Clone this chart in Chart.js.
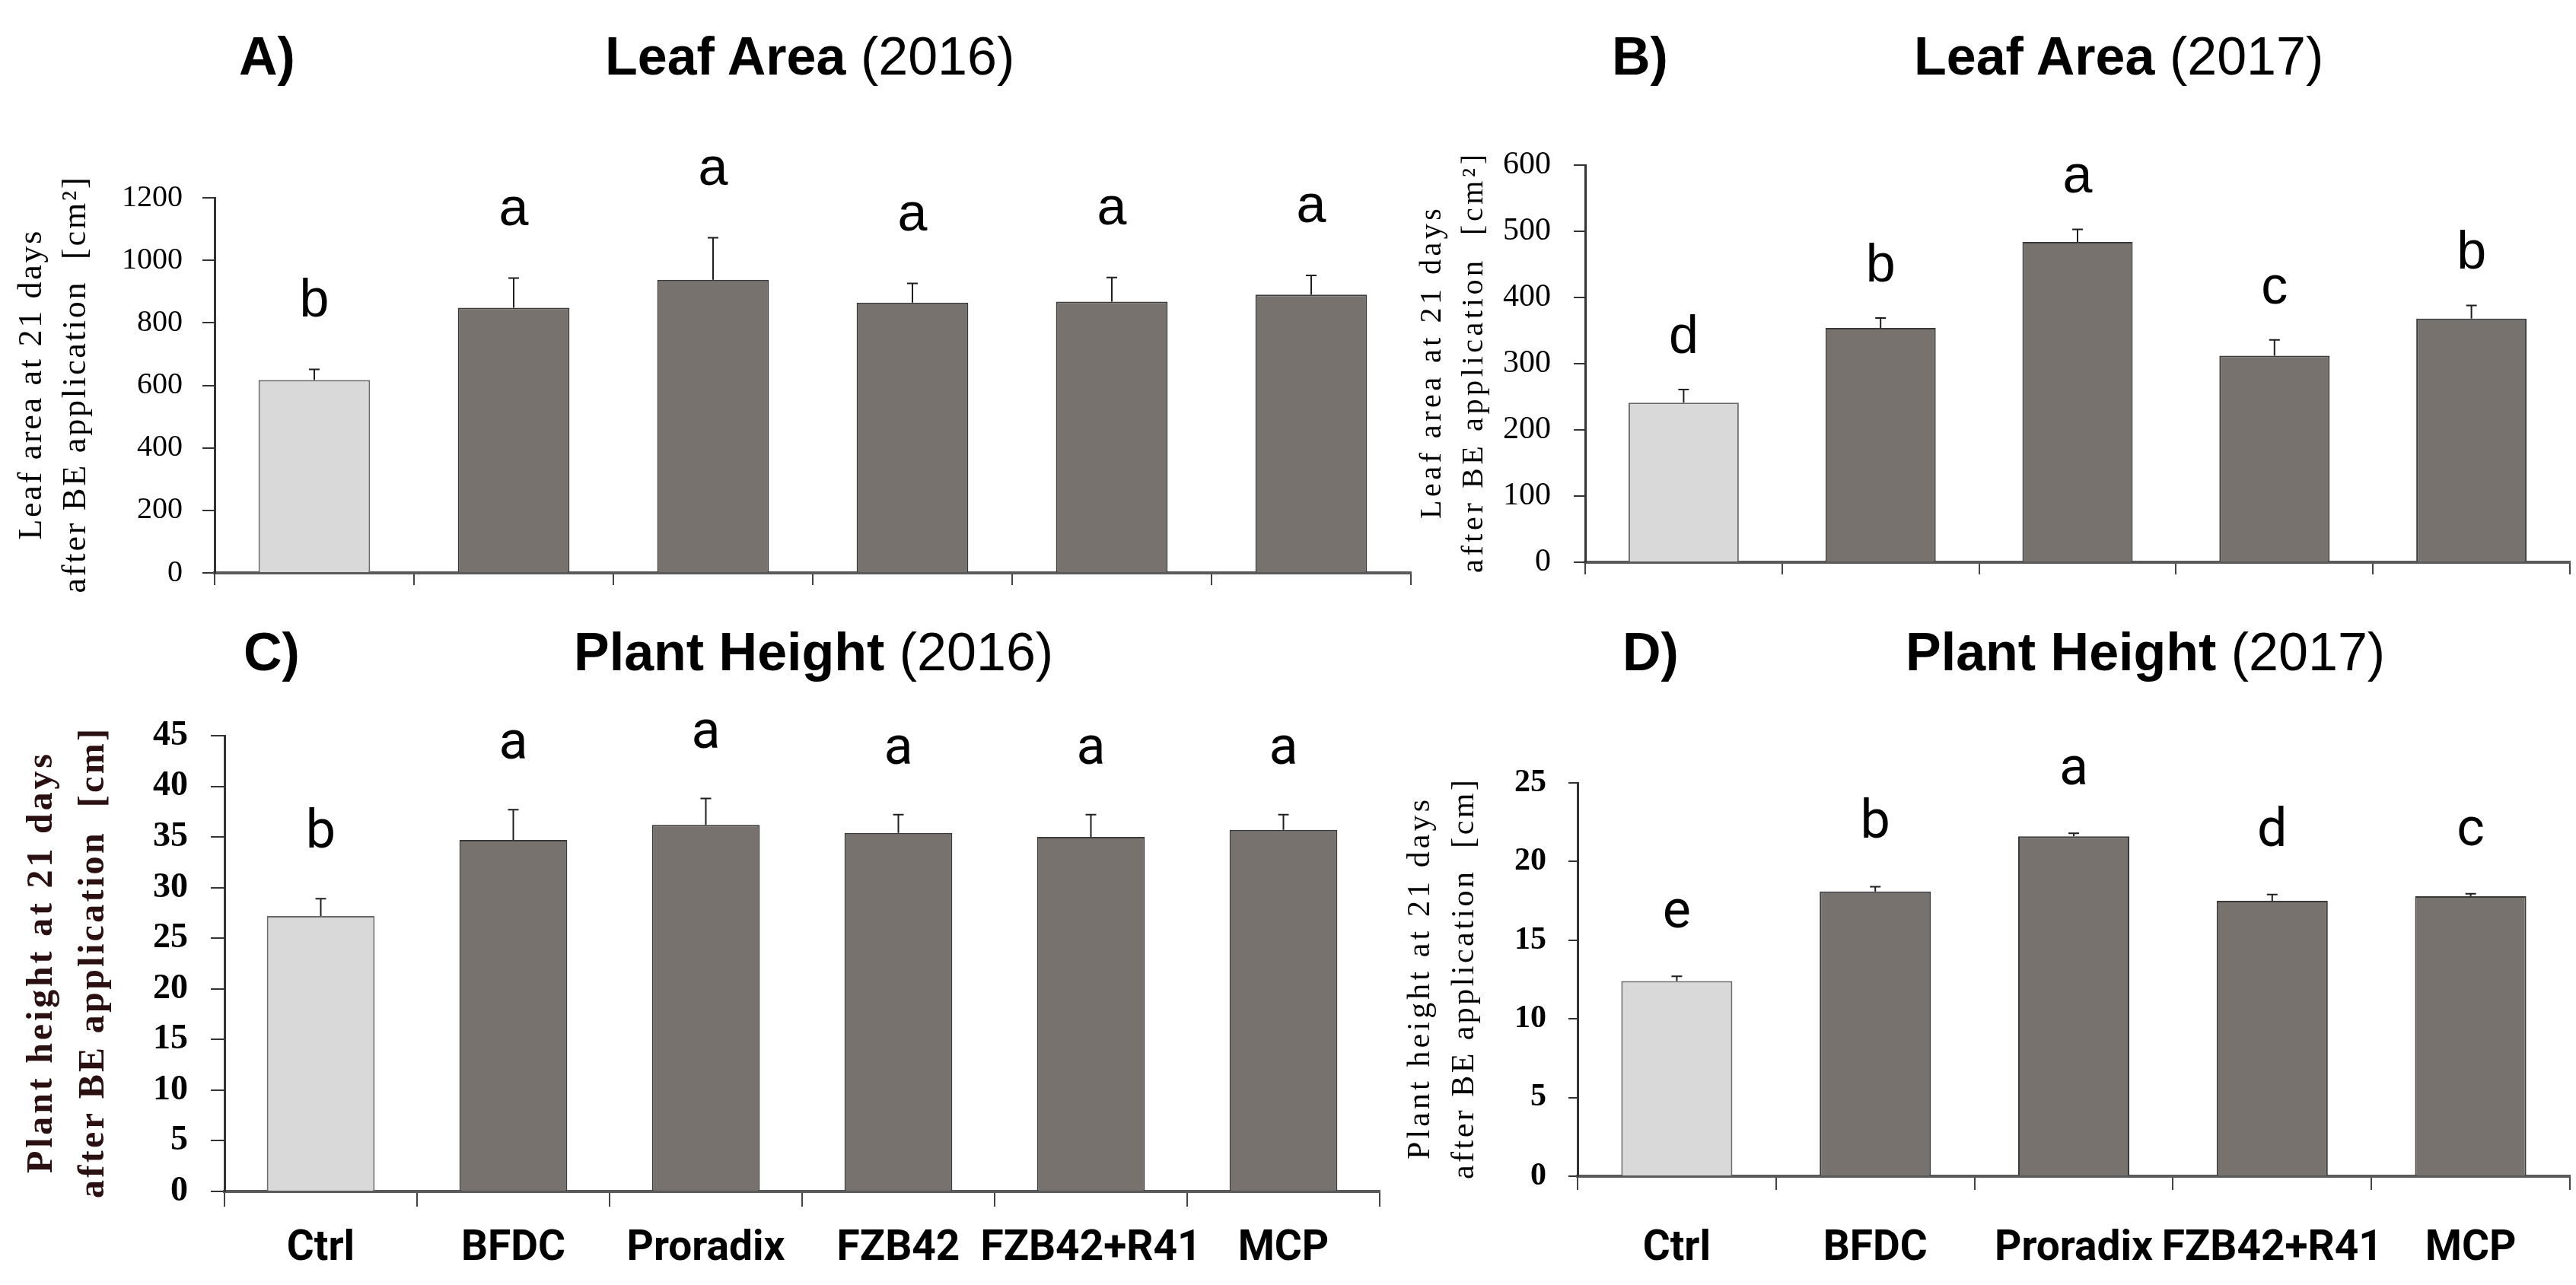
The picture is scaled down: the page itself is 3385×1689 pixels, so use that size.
<!DOCTYPE html>
<html>
<head>
<meta charset="utf-8">
<script src="https://cdn.jsdelivr.net/npm/chart.js@4.4.1/dist/chart.umd.min.js"></script>
<style>
    body { margin: 0; background: #fff; }
    #page { position: relative; width: 3385px; height: 1689px; overflow: hidden; background: #fff; }
    canvas { position: absolute; }
    .ttl { position: absolute; font-family: 'Liberation Sans', Arial, sans-serif; font-size: 70px; line-height: 70px; color: #000; white-space: nowrap; }
</style>
</head>
<body>
<div id="page">
    <div class="ttl" style="left:314px;top:39px"><b>A)</b></div>
    <div class="ttl" style="left:795px;top:39px"><b>Leaf Area</b> (2016)</div>
    <div class="ttl" style="left:2118px;top:39px"><b>B)</b></div>
    <div class="ttl" style="left:2515px;top:39px"><b>Leaf Area</b> (2017)</div>
    <div class="ttl" style="left:320px;top:822px"><b>C)</b></div>
    <div class="ttl" style="left:754px;top:822px"><b>Plant Height</b> (2016)</div>
    <div class="ttl" style="left:2132px;top:822px"><b>D)</b></div>
    <div class="ttl" style="left:2504px;top:822px"><b>Plant Height</b> (2017)</div>

    <canvas id="chart-a" width="1880" height="680" style="left:0;top:150px"></canvas>
    <canvas id="chart-b" width="1585" height="700" style="left:1800px;top:130px"></canvas>
    <canvas id="chart-c" width="1850" height="839" style="left:0;top:850px"></canvas>
    <canvas id="chart-d" width="1585" height="789" style="left:1800px;top:900px"></canvas>
</div>
<script>
// Treatments (2016 trial has FZB42 alone, 2017 does not)
const groups2016 = ['Ctrl', 'BFDC', 'Proradix', 'FZB42', 'FZB42+R41', 'MCP'];
const groups2017 = ['Ctrl', 'BFDC', 'Proradix', 'FZB42+R41', 'MCP'];

// Leaf area [cm²], means, SE and significance letters
const leafArea2016 = [617, 848, 938, 865, 868, 890];
const leafArea2016Err = [34, 95, 134, 61, 77, 62];
const leafArea2016Letters = ['b', 'a', 'a', 'a', 'a', 'a'];

const leafArea2017 = [241, 354, 484, 312, 368];
const leafArea2017Err = [20, 15, 19, 24, 20];
const leafArea2017Letters = ['d', 'b', 'a', 'c', 'b'];

// Plant height [cm]
const height2016 = [27.2, 34.7, 36.2, 35.4, 35.0, 35.7];
const height2016Err = [1.7, 3.0, 2.6, 1.8, 2.2, 1.5];
const height2016Letters = ['b', 'a', 'a', 'a', 'a', 'a'];

const height2017 = [12.4, 18.1, 21.6, 17.5, 17.8];
const height2017Err = [0.3, 0.3, 0.2, 0.4, 0.15];
const height2017Letters = ['e', 'b', 'a', 'd', 'c'];

const barFill = '#78726f';
const ctrlFill = '#d9d9d9';

// Draws a rotated line of text and stretches its spacing to a given length
function drawRotatedText(ctx, text, cx, cy, len, font, color) {
    ctx.save();
    ctx.translate(cx, cy);
    ctx.rotate(-Math.PI / 2);
    ctx.font = font;
    ctx.fillStyle = color;
    ctx.textAlign = 'left';
    ctx.textBaseline = 'middle';
    const natural = ctx.measureText(text).width;
    if ('letterSpacing' in ctx) {
        ctx.letterSpacing = ((len - natural) / (text.length - 1)).toFixed(2) + 'px';
        ctx.fillText(text, -len / 2, 0);
    } else {
        ctx.scale(len / natural, 1);
        ctx.fillText(text, -natural / 2, 0);
    }
    ctx.restore();
}

// Error bars, letters above the bars and the two-line y title
const annotations = {
    id: 'annotations',
    afterDatasetsDraw(chart, args, opts) {
        const ctx = chart.ctx;
        const y = chart.scales.y;
        const values = chart.data.datasets[0].data;
        ctx.save();
        ctx.strokeStyle = '#1e1e1e';
        ctx.lineWidth = 2;
        chart.getDatasetMeta(0).data.forEach((bar, i) => {
            const top = y.getPixelForValue(values[i] + opts.errors[i]);
            ctx.beginPath();
            ctx.moveTo(bar.x, bar.y);
            ctx.lineTo(bar.x, top);
            ctx.moveTo(bar.x - 7, top);
            ctx.lineTo(bar.x + 7, top);
            ctx.stroke();

            ctx.font = opts.letterFont;
            ctx.fillStyle = '#000';
            ctx.textAlign = 'center';
            ctx.textBaseline = 'alphabetic';
            ctx.fillText(opts.letters[i], bar.x, top - opts.letterGap);
        });
        ctx.restore();

        const area = chart.chartArea;
        const cy = (area.top + area.bottom) / 2;
        opts.title.lines.forEach((line, i) => {
            drawRotatedText(ctx, line, area.left + opts.title.offsets[i], cy, opts.title.lengths[i], opts.title.font, opts.title.color);
        });
    }
};

function makeChart(id, cfg) {
    return new Chart(document.getElementById(id), {
        type: 'bar',
        data: {
            labels: cfg.labels,
            datasets: [{
                data: cfg.values,
                backgroundColor: cfg.labels.map(l => l === 'Ctrl' ? ctrlFill : barFill),
                borderColor: cfg.labels.map(l => l === 'Ctrl' ? '#6a6a6a' : '#3a3a3a'),
                borderWidth: 2,
                barPercentage: 0.56,
                categoryPercentage: 1
            }]
        },
        options: {
            responsive: false,
            animation: false,
            devicePixelRatio: 1,
            layout: { padding: cfg.padding },
            plugins: {
                legend: { display: false },
                tooltip: { enabled: false },
                annotations: {
                    errors: cfg.errors,
                    letters: cfg.letters,
                    letterFont: cfg.letterFont,
                    letterGap: cfg.letterGap,
                    title: cfg.title
                }
            },
            scales: {
                x: {
                    grid: { offset: true, drawOnChartArea: false, tickLength: cfg.xTickLen, color: '#444', lineWidth: 2 },
                    border: { display: true, color: '#5a5a5a', width: 4 },
                    ticks: {
                        display: cfg.showLabels,
                        autoSkip: false,
                        maxRotation: 0,
                        minRotation: 0,
                        padding: cfg.xLabelPad,
                        color: '#000',
                        font: { family: 'Roboto', weight: 'bold', size: 55 }
                    },
                    afterFit: s => { s.height = cfg.xHeight; }
                },
                y: {
                    min: 0,
                    max: cfg.max,
                    ticks: {
                        stepSize: cfg.step,
                        padding: cfg.yLabelPad,
                        color: '#000',
                        font: { family: 'Liberation Serif', size: cfg.tickSize, weight: cfg.tickWeight },
                        callback: v => String(v)
                    },
                    grid: { drawOnChartArea: false, tickLength: cfg.yTickLen, color: '#333', lineWidth: 2 },
                    border: { color: '#333', width: 3 },
                    afterFit: s => { s.width = cfg.yWidth; }
                }
            }
        },
        plugins: [annotations]
    });
}

makeChart('chart-a', {
    labels: groups2016, values: leafArea2016, errors: leafArea2016Err, letters: leafArea2016Letters,
    max: 1200, step: 200, yWidth: 282, xHeight: 40, showLabels: false,
    padding: { top: 110, right: 26, bottom: 37, left: 0 },
    xTickLen: 16, xLabelPad: 0, yTickLen: 16, yLabelPad: 26, tickSize: 40, tickWeight: 'normal',
    letterFont: '70px "Liberation Sans"', letterGap: 70,
    title: {
        lines: ['Leaf area at 21 days', 'after BE application  [cm²]'],
        offsets: [-240, -182], lengths: [406, 546],
        font: '44px "Liberation Serif"', color: '#000'
    }
});

makeChart('chart-b', {
    labels: groups2017, values: leafArea2017, errors: leafArea2017Err, letters: leafArea2017Letters,
    max: 600, step: 100, yWidth: 283, xHeight: 40, showLabels: false,
    padding: { top: 87, right: 8, bottom: 51, left: 0 },
    xTickLen: 16, xLabelPad: 0, yTickLen: 15, yLabelPad: 30, tickSize: 42, tickWeight: 'normal',
    letterFont: '70px "Liberation Sans"', letterGap: 48,
    title: {
        lines: ['Leaf area at 21 days', 'after BE application  [cm²]'],
        offsets: [-201, -146], lengths: [408, 550],
        font: '40px "Liberation Serif"', color: '#000'
    }
});

makeChart('chart-c', {
    labels: groups2016, values: height2016, errors: height2016Err, letters: height2016Letters,
    max: 45, step: 5, yWidth: 295, xHeight: 123, showLabels: true,
    padding: { top: 117, right: 37, bottom: 0, left: 0 },
    xTickLen: 20, xLabelPad: 23, yTickLen: 18, yLabelPad: 30, tickSize: 46, tickWeight: 'bold',
    letterFont: '70px Roboto', letterGap: 67,
    title: {
        lines: ['Plant height at 21 days', 'after BE application  [cm]'],
        offsets: [-239, -171], lengths: [551, 617],
        font: 'bold 48px "Liberation Serif"', color: '#2a1010'
    }
});

makeChart('chart-d', {
    labels: groups2017, values: height2017, errors: height2017Err, letters: height2017Letters,
    max: 25, step: 5, yWidth: 273, xHeight: 143, showLabels: true,
    padding: { top: 129, right: 8, bottom: 0, left: 0 },
    xTickLen: 18, xLabelPad: 45, yTickLen: 12, yLabelPad: 29, tickSize: 42, tickWeight: 'bold',
    letterFont: '70px Roboto', letterGap: 64,
    title: {
        lines: ['Plant height at 21 days', 'after BE application  [cm]'],
        offsets: [-206, -148], lengths: [473, 525],
        font: '42px "Liberation Serif"', color: '#000'
    }
});
</script>
</body>
</html>
